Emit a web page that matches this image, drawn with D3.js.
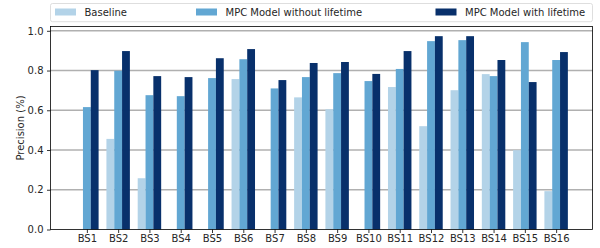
<!DOCTYPE html>
<html>
<head>
<meta charset="utf-8">
<script src="https://cdn.jsdelivr.net/npm/d3@7"></script>
<style>
  body { margin: 0; background: #fff; }
  text { font-family: "DejaVu Sans", sans-serif; }
</style>
</head>
<body>
<div id="chart"></div>
<script>
const stations = ["BS1", "BS2", "BS3", "BS4", "BS5", "BS6", "BS7", "BS8",
    "BS9", "BS10", "BS11", "BS12", "BS13", "BS14", "BS15", "BS16"];
const seriesNames = ["Baseline", "MPC Model without lifetime", "MPC Model with lifetime"];
const baseline = [0, 0.456, 0.258, 0, 0, 0.757, 0, 0.665, 0.605, 0, 0.717, 0.52, 0.701, 0.782, 0.399, 0.193];
const mpcWithout = [0.616, 0.799, 0.676, 0.671, 0.762, 0.857, 0.71, 0.767, 0.787, 0.747, 0.808, 0.948, 0.953, 0.772, 0.943, 0.853];
const mpcWith = [0.802, 0.898, 0.772, 0.767, 0.862, 0.908, 0.752, 0.838, 0.843, 0.783, 0.898, 0.973, 0.973, 0.853, 0.742, 0.893];
const yTicks = [0, 0.2, 0.4, 0.6, 0.8, 1.0];

var allSeries = [baseline, mpcWithout, mpcWith];
var colors = ["#b3d3e8", "#62a7d3", "#08306b"];

var W = 600, H = 248;
var margin = {top: 26.5, right: 7.5, bottom: 18.5, left: 50.5};
var width = W - margin.left - margin.right;
var height = H - margin.top - margin.bottom;

var svg = d3.select("#chart").append("svg")
    .attr("width", W)
    .attr("height", H);

var g = svg.append("g")
    .attr("transform", "translate(" + margin.left + "," + margin.top + ")");

// matplotlib style: bars at i-0.25, i, i+0.25, width 0.25, 5% margins
var barW = 0.25;
var lo = -1.5 * barW, hi = stations.length - 1 + 1.5 * barW;
var pad = (hi - lo) * 0.05;
var x = d3.scaleLinear().domain([lo - pad, hi + pad]).range([0, width]);

var yMax = d3.max(allSeries, s => d3.max(s)) * 1.05;
var y = d3.scaleLinear().domain([0, yMax]).range([height, 0]);

// grid
g.selectAll(".grid")
    .data(yTicks.slice(1))
    .enter().append("line")
    .attr("x1", 0).attr("x2", width)
    .attr("y1", d => y(d)).attr("y2", d => y(d))
    .attr("stroke", "#b0b0b0")
    .attr("stroke-width", 1.4);

// bars
allSeries.forEach(function(vals, k) {
    g.selectAll(".bar" + k)
        .data(vals)
        .enter().append("rect")
        .attr("x", (d, i) => x(i + (k - 1) * barW - barW / 2))
        .attr("width", x(barW) - x(0))
        .attr("y", d => y(d))
        .attr("height", d => y(0) - y(d))
        .attr("fill", colors[k]);
});

// axes
var yAxis = g.append("g")
    .call(d3.axisLeft(y).tickValues(yTicks).tickFormat(d3.format(".1f")).tickSize(3.5).tickPadding(3.5));
var xAxis = g.append("g")
    .attr("transform", "translate(0," + height + ")")
    .call(d3.axisBottom(x).tickValues(d3.range(stations.length)).tickFormat(i => stations[i]).tickSize(3.5).tickPadding(2));
[xAxis, yAxis].forEach(function(a) {
    a.select(".domain").remove();
    a.selectAll("line").attr("stroke", "#000").attr("stroke-width", 0.8);
    a.selectAll("text").attr("fill", "#262626").style("font-size", "10px").style("font-family", "DejaVu Sans");
});

// frame
g.append("rect")
    .attr("width", width).attr("height", height)
    .attr("fill", "none")
    .attr("stroke", "#000")
    .attr("stroke-width", 0.8);

g.append("text")
    .attr("transform", "rotate(-90)")
    .attr("x", -height / 2)
    .attr("y", -margin.left + 24)
    .style("text-anchor", "middle")
    .style("font-size", "10px")
    .attr("fill", "#262626")
    .text("Precision (%)");

// legend (expanded across the axes width)
var lg = svg.append("g").attr("transform", "translate(" + margin.left + ",3.5)");
lg.append("rect")
    .attr("width", width).attr("height", 18.2)
    .attr("rx", 2)
    .attr("fill", "#fff")
    .attr("stroke", "#d6d6d6")
    .attr("stroke-width", 0.8);
var legX = [4.5, 145.5, 385];
var items = lg.selectAll(".item")
    .data(seriesNames)
    .enter().append("g")
    .attr("transform", (d, i) => "translate(" + legX[i] + ",0)");
items.append("rect")
    .attr("y", 5).attr("width", 21).attr("height", 7)
    .attr("fill", (d, i) => colors[i]);
items.append("text")
    .attr("x", 29.5).attr("y", 12.8)
    .style("font-size", "10px")
    .attr("fill", "#262626")
    .text(d => d);
</script>
</body>
</html>
